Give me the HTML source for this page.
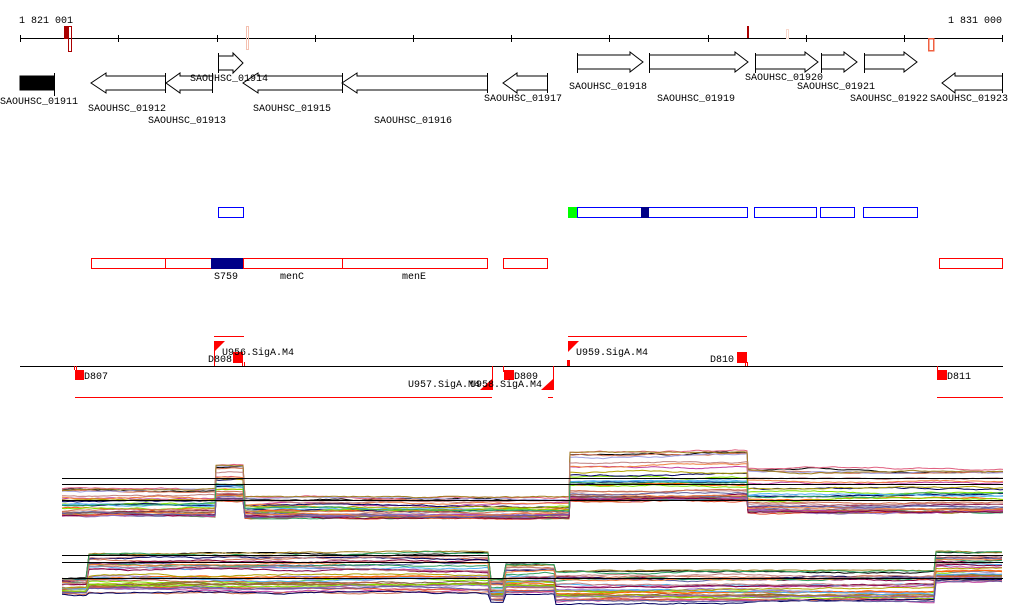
<!DOCTYPE html>
<html><head><meta charset="utf-8"><style>
html,body{margin:0;padding:0;background:#fff;}
svg{display:block;}
text{font-family:"Liberation Mono","DejaVu Sans Mono",monospace;font-size:10px;fill:#000;}
</style></head><body>
<svg id="s" width="1024" height="611" xmlns="http://www.w3.org/2000/svg" shape-rendering="crispEdges">
<rect width="1024" height="611" fill="#fff"/>
<text x="19" y="23">1 821 001</text>
<text x="948" y="23">1 831 000</text>
<rect x="20" y="38" width="983" height="1" fill="#000"/>
<g fill="#000">
<rect x="20" y="35" width="1" height="7"/><rect x="118" y="35" width="1" height="7"/><rect x="217" y="35" width="1" height="7"/><rect x="315" y="35" width="1" height="7"/><rect x="413" y="35" width="1" height="7"/><rect x="511" y="35" width="1" height="7"/><rect x="609" y="35" width="1" height="7"/><rect x="708" y="35" width="1" height="7"/><rect x="806" y="35" width="1" height="7"/><rect x="904" y="35" width="1" height="7"/><rect x="1002" y="35" width="1" height="7"/>
</g>
<rect x="64.5" y="26.5" width="4" height="12" fill="#a00" stroke="#a00"/>
<rect x="68.5" y="26.5" width="3" height="25" fill="none" stroke="#a00"/>
<rect x="246.5" y="26.5" width="2" height="23" fill="none" stroke="#f4c0b0"/>
<rect x="747" y="26" width="2" height="12" fill="#a00"/>
<rect x="786.5" y="29.5" width="2" height="9" fill="none" stroke="#f8d8cc"/>
<rect x="928.5" y="38.5" width="5" height="12" fill="none" stroke="#f06040" stroke-width="1.5"/>
<g fill="#fff" stroke="#000" shape-rendering="auto">
<rect x="20" y="76" width="34" height="14" fill="#000"/><line x1="54.5" y1="73" x2="54.5" y2="96"/>
<path d="M165.5 73V93M165.5 90H106L106 93 91 83 106 73 106 76H165.5"/>
<path d="M212.5 73V93M212.5 90H180L180 93 166 83 180 73 180 76H212.5"/>
<path d="M342.5 73V93M342.5 90H258L258 93 243 83 258 73 258 76H342.5"/>
<path d="M487.5 73V93M487.5 90H357L357 93 342 83 357 73 357 76H487.5"/>
<path d="M547.5 73V93M547.5 90H517L517 93 503 83 517 73 517 76H547.5"/>
<path d="M1002.5 73V93M1002.5 90H955L955 93 942 83 955 73 955 76H1002.5"/>
<path d="M218.5 53V73M218.5 56H233L233 53 243 63 233 73 233 70H218.5"/>
<path d="M577.5 53V73M577.5 55H630L630 52 643 62 630 72 630 69H577.5"/>
<path d="M649.5 53V73M649.5 55H735L735 52 748 62 735 72 735 69H649.5"/>
<path d="M755.5 53V73M755.5 55H805L805 52 818 62 805 72 805 69H755.5"/>
<path d="M821.5 53V73M821.5 55H844L844 52 857 62 844 72 844 69H821.5"/>
<path d="M864.5 53V73M864.5 55H904L904 52 917 62 904 72 904 69H864.5"/>
</g>
<text x="0" y="104">SAOUHSC_01911</text>
<text x="88" y="111">SAOUHSC_01912</text>
<text x="148" y="123">SAOUHSC_01913</text>
<text x="190" y="81">SAOUHSC_01914</text>
<text x="253" y="111">SAOUHSC_01915</text>
<text x="374" y="123">SAOUHSC_01916</text>
<text x="484" y="101">SAOUHSC_01917</text>
<text x="569" y="89">SAOUHSC_01918</text>
<text x="657" y="101">SAOUHSC_01919</text>
<text x="745" y="80">SAOUHSC_01920</text>
<text x="797" y="89">SAOUHSC_01921</text>
<text x="850" y="101">SAOUHSC_01922</text>
<text x="930" y="101">SAOUHSC_01923</text>
<g fill="none" stroke="#00f">
<rect x="218.5" y="207.5" width="25" height="10"/>
<rect x="577.5" y="207.5" width="170" height="10"/>
<rect x="754.5" y="207.5" width="62" height="10"/>
<rect x="820.5" y="207.5" width="34" height="10"/>
<rect x="863.5" y="207.5" width="54" height="10"/>
</g>
<rect x="568" y="207" width="9" height="11" fill="#0f0"/>
<rect x="641" y="207" width="8" height="11" fill="#008"/>
<g fill="none" stroke="#f00">
<rect x="91.5" y="258.5" width="74" height="10"/>
<rect x="165.5" y="258.5" width="78" height="10"/>
<rect x="243.5" y="258.5" width="99" height="10"/>
<rect x="342.5" y="258.5" width="145" height="10"/>
<rect x="503.5" y="258.5" width="44" height="10"/>
<rect x="939.5" y="258.5" width="63" height="10"/>
</g>
<rect x="211" y="258" width="32" height="11" fill="#008"/>
<text x="214" y="279">S759</text><text x="280" y="279">menC</text><text x="402" y="279">menE</text>
<rect x="20" y="366" width="983" height="1" fill="#000"/>
<g fill="#f00">
<rect x="214" y="336" width="30" height="1"/>
<rect x="568" y="336" width="179" height="1"/>
<rect x="75" y="397" width="417" height="1"/>
<rect x="548" y="397" width="5" height="1"/>
<rect x="937" y="397" width="66" height="1"/>
<rect x="214" y="341" width="1" height="25"/>
<rect x="492" y="366" width="1" height="24"/>
<rect x="553" y="366" width="1" height="24"/>
<rect x="503" y="366" width="1" height="6"/>
<rect x="937" y="366" width="1" height="6"/>
<rect x="74" y="366" width="1" height="4"/><rect x="76" y="366" width="1" height="4"/>
<rect x="242" y="362" width="1" height="4"/><rect x="244" y="362" width="1" height="4"/>
<rect x="745" y="362" width="1" height="4"/><rect x="747" y="362" width="1" height="4"/>
<path d="M214 341H225L214 352Z" shape-rendering="auto"/><path d="M568 341H579L568 352Z" shape-rendering="auto"/>
<rect x="567" y="360" width="3" height="6"/>
<rect x="233" y="352" width="10" height="11"/>
<rect x="737" y="352" width="10" height="11"/>
<rect x="75" y="370" width="9" height="10"/>
<rect x="504" y="370" width="10" height="10"/>
<rect x="937" y="370" width="10" height="10"/>
<path d="M480 390H492V379Z" shape-rendering="auto"/><path d="M541 390H553V379Z" shape-rendering="auto"/>
</g>
<text x="222" y="355">U956.SigA.M4</text>
<text x="208" y="362">D808</text>
<text x="576" y="355">U959.SigA.M4</text>
<text x="710" y="362">D810</text>
<text x="84" y="379">D807</text>
<text x="514" y="379">D809</text>
<text x="947" y="379">D811</text>
<text x="408" y="387">U957.SigA.M4</text>
<text x="470" y="387">U958.SigA.M4</text>
<g id="plots" shape-rendering="auto"></g>
<g fill="#000">
<rect x="62" y="478" width="941" height="1"/><rect x="62" y="484" width="941" height="1"/><rect x="62" y="500" width="941" height="1"/>
<rect x="62" y="555" width="941" height="1"/><rect x="62" y="562" width="941" height="1"/><rect x="62" y="578" width="941" height="1"/>
</g>
</svg>
<script>
(function(){
var seed=7;function r(){seed=(seed*16807)%2147483647;return seed/2147483647;}
var cols=["#e05030","#a08020","#c040a0","#50b0f0","#80e000","#d07050","#9070c0","#800040","#000060","#f08040","#b0a000","#c08080","#6060a0","#30a060","#e06080","#a0a0e0","#806040","#ff6000","#8b5a5a","#c06040"];
var NS="http://www.w3.org/2000/svg",g=document.getElementById("plots");
function plot(segs,n){
 for(var i=0;i<n;i++){
  var q=i==0?0.05:1-Math.pow(r(),1.8),pts=[],off=0;
  segs.forEach(function(s){
   var y=s[2]+(s[3]-s[2])*q;
   for(var x=s[0];x<=s[1];x+=3){off+=(r()-0.5)*1.0;if(off>2.5)off=2.5;if(off<-2.5)off=-2.5;
    pts.push(x+","+(y+off).toFixed(1));}
  });
  var p=document.createElementNS(NS,"polyline");
  p.setAttribute("points",pts.join(" "));p.setAttribute("fill","none");
  p.setAttribute("stroke",i==0?"#000":cols[i%cols.length]);p.setAttribute("stroke-width","1");
  g.appendChild(p);
 }
}
plot([[62,215,488,516],[216,244,464,500],[245,569,497,517],[570,747,450,500],[748,1003,468,512]],34);
plot([[62,88,578,594],[89,490,553,592],[491,505,580,600],[506,555,565,592],[556,935,572,602],[936,1003,553,582]],34);
})();
</script>
</body></html>
